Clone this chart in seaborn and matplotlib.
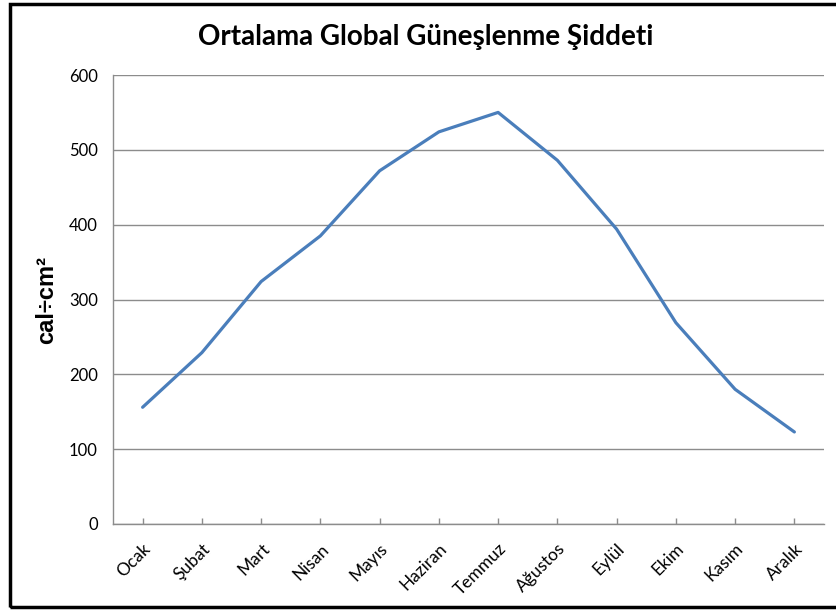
import matplotlib
matplotlib.use("Agg")
import matplotlib.pyplot as plt
import seaborn as sns
import pandas as pd
from matplotlib.patches import Rectangle

months = ["Ocak", "Şubat", "Mart", "Nisan", "Mayıs", "Haziran",
          "Temmuz", "Ağustos", "Eylül", "Ekim", "Kasım", "Aralık"]
values = [156, 229, 324, 385, 472, 524, 550, 486, 394, 269, 180, 123]
yticks = [0, 100, 200, 300, 400, 500, 600]

title = "Ortalama Global Güneşlenme Şiddeti"
ylabel = "cal÷cm²"

sns.set_theme(style="white")
plt.rcParams["font.family"] = ["Lato", "DejaVu Sans"]

df = pd.DataFrame({"month": months, "value": values})

fig = plt.figure(figsize=(8.37, 6.10), dpi=100)
ax = fig.add_axes([113 / 837, 86 / 610, 711 / 837, 449 / 610])

sns.lineplot(data=df, x="month", y="value", sort=False, ax=ax,
             color="#4A7EBB", linewidth=2.3)

ax.set_xlim(-0.5, len(months) - 0.5)
ax.set_ylim(0, 600)
ax.set_yticks(yticks)
ax.set_yticklabels([str(t) for t in yticks], fontsize=12, color="#000000")
ax.set_xticks(range(len(months)))
ax.set_xticklabels(months, rotation=45, ha="right", rotation_mode="anchor",
                   fontsize=12.5, color="#000000")
ax.set_xlabel("")
ax.set_ylabel("")

ax.yaxis.grid(True, color="#8C8C8C", linewidth=1.0)
ax.xaxis.grid(False)
ax.set_axisbelow(True)

for side in ["top", "right"]:
    ax.spines[side].set_visible(False)
for side in ["left", "bottom"]:
    ax.spines[side].set_color("#8C8C8C")
    ax.spines[side].set_linewidth(1.0)

ax.tick_params(axis="x", direction="in", length=4, width=1.0,
               color="#8C8C8C", bottom=True, pad=12)
ax.tick_params(axis="y", length=0, pad=11)

fig.text(426 / 837, 1 - 37 / 610, title, ha="center", va="center",
         fontsize=20, fontweight="bold", color="#000000")
fig.text(47 / 837, 1 - 300 / 610, ylabel, ha="center", va="center",
         rotation=90, fontsize=17, fontweight="bold",
         family=["Liberation Sans", "DejaVu Sans"], color="#000000")

fig.patches.append(Rectangle((10 / 837, 3 / 610), 840 / 837, 603 / 610,
                             transform=fig.transFigure, fill=False,
                             edgecolor="#000000", linewidth=2.5))

fig.savefig("out.png", dpi=100, facecolor="white")
